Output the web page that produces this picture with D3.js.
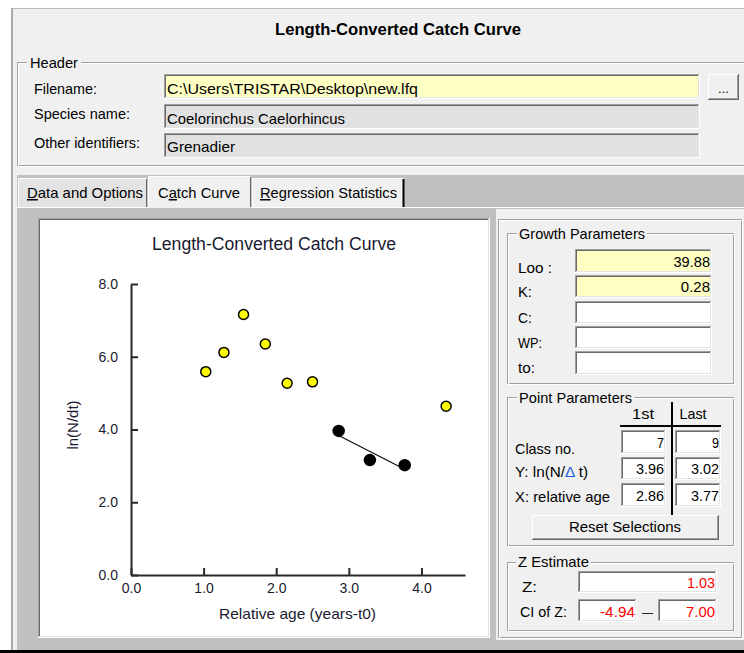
<!DOCTYPE html>
<html><head><meta charset="utf-8">
<script src="https://cdn.jsdelivr.net/npm/d3@7"></script>
<style>body{margin:0;background:#fff;overflow:hidden}svg{display:block}</style>
</head><body>
<svg id="c" width="744" height="653"></svg>
<script>
// ---------------- data ----------------
const relAge = [1.03, 1.28, 1.55, 1.85, 2.15, 2.50, 2.86, 3.29, 3.77, 4.34];
const lnNdt  = [5.59, 6.12, 7.16, 6.35, 5.27, 5.31, 3.96, 3.16, 3.02, 4.64];
const firstSel = 7, lastSel = 9;            // class numbers used in regression
const xTicks = [0, 1, 2, 3, 4];
const yTicks = [0, 2, 4, 6, 8];
const xTickLabels = ['0.0', '1.0', '2.0', '3.0', '4.0'];
const yTickLabels = ['0.0', '2.0', '4.0', '6.0', '8.0'];
const growthLabels = ['Loo :', 'K:', 'C:', 'WP:', 'to:'];
const growthValues = ['39.88', '0.28', '', '', ''];
const pointLabels = ['Class no.', 'Y: ln(N/', 'X: relative age'];
const pointFirst = ['7', '3.96', '2.86'];
const pointLast  = ['9', '3.02', '3.77'];
const zValue = '1.03';
const zCI = ['-4.94', '7.00'];
const headerLabels = ['Filename:', 'Species name:', 'Other identifiers:'];
const headerValues = ['C:\\Users\\TRISTAR\\Desktop\\new.lfq', 'Coelorinchus Caelorhincus', 'Grenadier'];
const tabLabels = ['Data and Options', 'Catch Curve', 'Regression Statistics'];

// ---------------- helpers ----------------
const UI = "'Liberation Sans Narrow','Arial Narrow','Liberation Sans',Arial,sans-serif";
const CF = "'Liberation Sans',Arial,sans-serif";
const svg = d3.select('#c');

function R(x, y, w, h, fill) { return svg.append('rect').attr('x', x).attr('y', y).attr('width', w).attr('height', h).attr('fill', fill); }
function L(x1, y1, x2, y2, c, sw) { return svg.append('line').attr('x1', x1).attr('y1', y1).attr('x2', x2).attr('y2', y2).attr('stroke', c).attr('stroke-width', sw || 1); }
function T(x, y, s, o) {
  o = o || {};
  const t = svg.append('text').attr('x', x).attr('y', y).text(s)
    .attr('font-family', o.family || UI).attr('font-size', o.size || 15)
    .attr('fill', o.fill || '#000').attr('text-anchor', o.anchor || 'start');
  if (o.weight) t.attr('font-weight', o.weight);
  if (o.w) t.attr('textLength', o.w).attr('lengthAdjust', 'spacingAndGlyphs');
  return t;
}
function sunken(x0, y0, x1, y1, fill) {
  R(x0, y0, x1 - x0, y1 - y0, fill);
  L(x0, y0 + 0.5, x1, y0 + 0.5, '#a0a0a0'); L(x0 + 0.5, y0, x0 + 0.5, y1, '#a0a0a0');
  L(x0 + 1, y0 + 1.5, x1 - 1, y0 + 1.5, '#696969'); L(x0 + 1.5, y0 + 1, x0 + 1.5, y1 - 1, '#696969');
  L(x0, y1 - 0.5, x1, y1 - 0.5, '#ffffff'); L(x1 - 0.5, y0, x1 - 0.5, y1, '#ffffff');
  L(x0 + 1, y1 - 1.5, x1 - 1, y1 - 1.5, '#e3e3e3'); L(x1 - 1.5, y0 + 1, x1 - 1.5, y1 - 1, '#e3e3e3');
}
function raised(x0, y0, x1, y1, fill) {
  R(x0, y0, x1 - x0, y1 - y0, fill);
  L(x0, y0 + 0.5, x1, y0 + 0.5, '#ffffff'); L(x0 + 0.5, y0, x0 + 0.5, y1, '#ffffff');
  L(x0, y1 - 0.5, x1, y1 - 0.5, '#696969'); L(x1 - 0.5, y0, x1 - 0.5, y1, '#696969');
  L(x0 + 1, y1 - 1.5, x1 - 1, y1 - 1.5, '#a0a0a0'); L(x1 - 1.5, y0 + 1, x1 - 1.5, y1 - 1, '#a0a0a0');
}
function etched(x0, y0, x1, y1) {
  svg.append('rect').attr('x', x0 + 0.5).attr('y', y0 + 0.5).attr('width', x1 - x0 - 1).attr('height', y1 - y0 - 1)
    .attr('fill', 'none').attr('stroke', '#a0a0a0');
  svg.append('rect').attr('x', x0 + 1.5).attr('y', y0 + 1.5).attr('width', x1 - x0 - 1).attr('height', y1 - y0 - 1)
    .attr('fill', 'none').attr('stroke', '#ffffff');
}
function groupBox(x0, y0, x1, y1, title, tx, tw, base) {
  etched(x0, y0, x1, y1);
  R(tx - 2, y0 - 8, tw + 4, 14, '#f0f0f0');
  T(tx, base, title, { w: tw });
}

// ---------------- window chrome ----------------
R(0, 0, 744, 653, '#ffffff');
R(11, 8, 733, 645, '#f0f0f0');
L(11, 8.5, 744, 8.5, '#b4bcc8');
R(11, 8, 2, 645, '#a9a9a9');
T(275, 35, 'Length-Converted Catch Curve', { size: 16, weight: 'bold', w: 246 });

// Header group
etched(17, 62, 760, 166);
R(27, 55, 54, 14, '#f0f0f0');
T(30, 68, 'Header', { w: 48 });
const hlY = [94, 119, 148], hlW = [63, 96, 106];
const fY = [[74, 99], [104, 129], [133, 158]];
const fFill = ['#ffffc4', '#e1e1e1', '#e1e1e1'];
const fvY = [94, 124, 152], fvW = [251, 178, 68];
headerLabels.forEach((s, i) => T(34, hlY[i], s, { w: hlW[i] }));
headerValues.forEach((s, i) => {
  sunken(164, fY[i][0], 700, fY[i][1], fFill[i]);
  T(167, fvY[i], s, { w: fvW[i] });
});
raised(708, 74, 739, 100, '#f0f0f0');
T(723.5, 93, '...', { anchor: 'middle', size: 13 });

// ---------------- tab control ----------------
R(17, 175, 727, 475, '#c0c0c0');
L(17, 207.5, 744, 207.5, '#ffffff');
// tabs
const tabX = [[18, 147], [148, 251], [252, 404]];
const tabFill = ['#e3e3e3', '#f0f0f0', '#f0f0f0'];
const tabTx = [27, 158, 260], tabTw = [116, 82, 137];
const tabUnder = [0, 1, 0]; // underlined character index
tabLabels.forEach((s, i) => {
  const [a, b] = tabX[i];
  const top = i === 1 ? 176 : 178;
  R(a, top, b - a, 207 - top + (i === 1 ? 1 : 0), tabFill[i]);
  L(a + 0.5, top + 1, a + 0.5, 207, '#ffffff');
  L(a + 1, top + 0.5, b - 1, top + 0.5, '#ffffff');
  L(b - 0.5, top + 1, b - 0.5, 207, i === 2 ? '#000000' : '#696969', i === 2 ? 2 : 1);
  const t = svg.append('text').attr('x', tabTx[i]).attr('y', 198)
    .attr('font-family', UI).attr('font-size', 15).attr('fill', '#000')
    .attr('textLength', tabTw[i]).attr('lengthAdjust', 'spacingAndGlyphs');
  const k = tabUnder[i];
  if (k > 0) t.append('tspan').text(s.slice(0, k));
  t.append('tspan').attr('text-decoration', 'underline').text(s[k]);
  t.append('tspan').text(s.slice(k + 1));
});

// chart panel
sunken(38, 218, 490, 638, '#ffffff');
R(40, 220, 448, 416, '#ffffff');

// right panel
R(496, 209, 248, 431, '#f0f0f0');
etched(498, 219, 742, 638);

// ---------------- the chart ----------------
const x = d3.scaleLinear().domain([0, 4.6]).range([131, 465]);
const y = d3.scaleLinear().domain([0, 8]).range([575, 284]);
const ink = '#1a1a30';

T(152, 250, 'Length-Converted Catch Curve', { family: CF, size: 17.5, w: 244, fill: ink });

const gx = svg.append('g').attr('transform', 'translate(0,575)')
  .call(d3.axisBottom(x).tickValues(xTicks).tickFormat((d, i) => xTickLabels[i])
    .tickSize(-7).tickSizeOuter(0).tickPadding(8));
const gy = svg.append('g').attr('transform', 'translate(131,0)')
  .call(d3.axisLeft(y).tickValues(yTicks).tickFormat((d, i) => yTickLabels[i])
    .tickSize(-7).tickSizeOuter(0).tickPadding(13));
[gx, gy].forEach(g => {
  g.attr('font-family', CF).attr('font-size', 14);
  g.select('.domain').attr('stroke', '#2a2a2a').attr('stroke-width', 2);
  g.selectAll('.tick line').attr('stroke', '#2a2a2a').attr('stroke-width', 2);
  g.selectAll('.tick text').attr('fill', ink);
});

T(297.5, 619, 'Relative age (years-t0)', { family: CF, size: 15, w: 157, anchor: 'middle', fill: ink });
svg.append('text').attr('transform', 'translate(78,425) rotate(-90)')
  .attr('text-anchor', 'middle').attr('font-family', CF).attr('font-size', 15)
  .attr('fill', ink).text('ln(N/dt)');

// regression on selected classes
const sel = d3.range(firstSel - 1, lastSel);
const mx = d3.mean(sel, i => relAge[i]), my = d3.mean(sel, i => lnNdt[i]);
const slope = d3.sum(sel, i => (relAge[i] - mx) * (lnNdt[i] - my)) / d3.sum(sel, i => (relAge[i] - mx) ** 2);
const icpt = my - slope * mx;
const x0 = relAge[firstSel - 1], x1 = relAge[lastSel - 1];
L(x(x0), y(icpt + slope * x0), x(x1), y(icpt + slope * x1), '#111', 1.3);

svg.append('g').selectAll('circle').data(relAge.map((a, i) => ({ a, v: lnNdt[i], s: i >= firstSel - 1 && i <= lastSel - 1 })))
  .join('circle')
  .attr('cx', d => x(d.a)).attr('cy', d => y(d.v))
  .attr('r', d => d.s ? 5.5 : 5)
  .attr('fill', d => d.s ? '#000' : '#ffff00')
  .attr('stroke', '#000').attr('stroke-width', 1.5);

// ---------------- right panel: Growth Parameters ----------------
groupBox(507, 233, 734, 384, 'Growth Parameters', 519, 126, 239);
const gF = [[249, 273], [275, 298], [301, 324], [326, 349], [351, 375]];
const gLy = [273, 297, 323, 348, 373];
const gLw = [34, 14, 14, 24, 17];
growthLabels.forEach((s, i) => {
  T(518, gLy[i], s, { w: gLw[i] });
  sunken(575, gF[i][0], 712, gF[i][1], i < 2 ? '#ffffc4' : '#ffffff');
  if (growthValues[i]) T(710, gF[i][1] - 6, growthValues[i], { anchor: 'end', w: growthValues[i].length * 7.3 });
});

// ---------------- Point Parameters ----------------
groupBox(507, 397, 734, 546, 'Point Parameters', 519, 113, 403);
T(643, 419, '1st', { anchor: 'middle', w: 22 });
T(693, 419, 'Last', { anchor: 'middle', w: 27 });
L(620, 426, 721, 426, '#000', 2);
L(672, 402, 672, 516, '#000', 2);
const pF = [[430, 454], [457, 480], [483, 507]];
const pLy = [454, 477, 502];
const pLw = [60, 73, 95];
pointLabels.forEach((s, i) => {
  const t = T(515, pLy[i], '', { w: pLw[i] });
  t.append('tspan').text(s);
  if (i === 1) { t.append('tspan').attr('fill', '#1f5fd6').text('Δ'); t.append('tspan').text(' t)'); }
  sunken(621, pF[i][0], 666, pF[i][1], '#ffffff');
  sunken(675, pF[i][0], 721, pF[i][1], '#ffffff');
  T(664, pF[i][1] - 6, pointFirst[i], { anchor: 'end', w: pointFirst[i].length === 1 ? 7 : 28 });
  T(719, pF[i][1] - 6, pointLast[i], { anchor: 'end', w: pointLast[i].length === 1 ? 7 : 28 });
});
raised(532, 515, 719, 540, '#f0f0f0');
T(625, 532, 'Reset Selections', { anchor: 'middle', w: 112 });

// ---------------- Z Estimate ----------------
groupBox(507, 562, 734, 631, 'Z Estimate', 518, 71, 567);
T(522, 592, 'Z:', { w: 15 });
sunken(578, 571, 717, 593, '#ffffff');
T(715, 588, zValue, { anchor: 'end', fill: '#ff0000', w: 28 });
T(520, 617, 'CI of Z:', { w: 47 });
sunken(578, 599, 637, 622, '#ffffff');
sunken(658, 599, 717, 622, '#ffffff');
T(635, 617, zCI[0], { anchor: 'end', fill: '#ff0000', w: 35 });
T(715, 617, zCI[1], { anchor: 'end', fill: '#ff0000', w: 29 });
T(647.5, 617, '—', { anchor: 'middle', w: 11, fill: '#222' });

// bottom edge
R(0, 650, 744, 3, '#000000');
</script>
</body></html>
